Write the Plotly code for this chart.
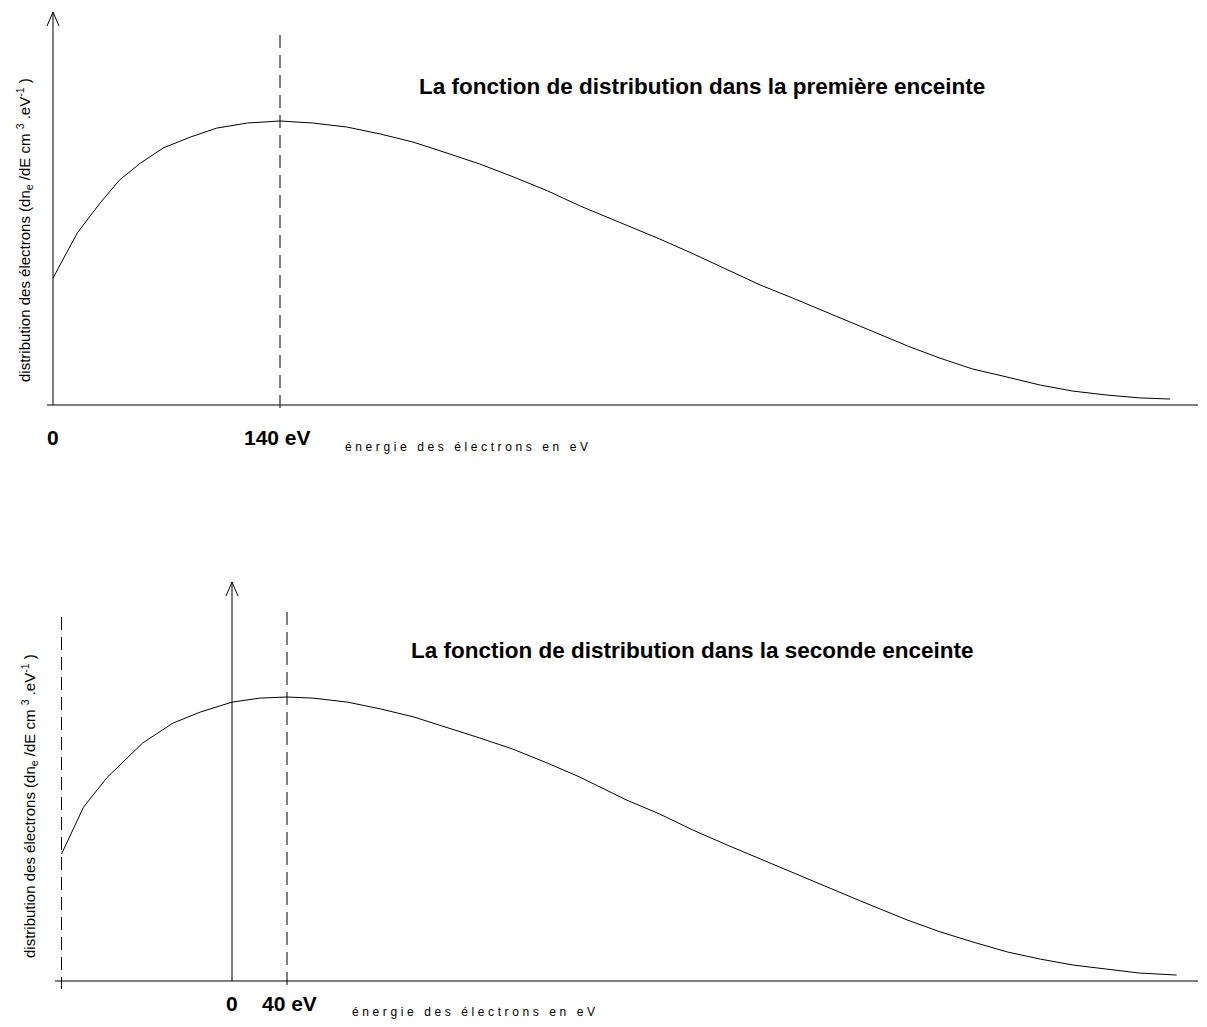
import plotly.graph_objects as go

# --- data (values normalised to the peak) ---
energie_1 = [0, 15, 29, 41, 54, 68, 85, 101, 120, 140, 160, 181, 202, 222, 243,
             263, 284, 305, 325, 354, 374, 395, 416, 436, 456, 477, 498, 527,
             547, 567, 588, 609, 629, 650, 670, 689]
distrib_1 = [0.447, 0.606, 0.711, 0.792, 0.852, 0.905, 0.944, 0.975, 0.993, 1.0,
             0.993, 0.979, 0.954, 0.926, 0.887, 0.849, 0.803, 0.754, 0.701, 0.634,
             0.585, 0.532, 0.475, 0.423, 0.377, 0.327, 0.275, 0.208, 0.165, 0.127,
             0.099, 0.070, 0.049, 0.035, 0.025, 0.021]

energie_2 = [-124, -108, -91, -65, -43, -23, 0, 20, 40, 59, 84, 108, 132, 156, 180,
             204, 229, 253, 287, 311, 335, 360, 384, 408, 433, 457, 491, 515, 539,
             564, 588, 612, 636, 660, 687]
distrib_2 = [0.447, 0.612, 0.716, 0.838, 0.908, 0.947, 0.982, 0.996, 1.0, 0.996,
             0.982, 0.958, 0.930, 0.894, 0.856, 0.817, 0.768, 0.718, 0.637, 0.588,
             0.532, 0.479, 0.430, 0.380, 0.331, 0.282, 0.215, 0.173, 0.137, 0.102,
             0.077, 0.056, 0.042, 0.028, 0.021]

pic_1 = 140          # eV, dashed marker, first chamber
pic_2 = 40           # eV, dashed marker, second chamber
bord_2 = -124        # eV, left dashed line, second chamber

titre_1 = "La fonction de distribution dans la première enceinte"
titre_2 = "La fonction de distribution dans la seconde enceinte"
label_y = "distribution des électrons (dn<sub>e</sub> /dE cm <sup>3</sup> .eV<sup>-1</sup> )"
label_x = "énergie des électrons en eV"

# --- geometry (screen pixels of the page) ---
W, H, OFF = 1191, 1011, 8


def lin(p0, v0, p1, v1):
    k = (v1 - v0) / (p1 - p0)
    return lambda p: v0 + (p - p0) * k


def paper_x(px):
    return (px - OFF) / W


def paper_y(py):
    return 1 - (py - OFF) / H


# panel 1: E=0 at px 53, E=140 at px 280 ; value 0 at py 405, 1 at py 121
ex1 = lin(53, 0, 280, pic_1)
vy1 = lin(405, 0, 121, 1)
# panel 2: E=0 at px 232, E=40 at px 287 ; value 0 at py 981, 1 at py 697
ex2 = lin(232, 0, 287, pic_2)
vy2 = lin(981, 0, 697, 1)

top_dom = (8, 440)
bot_dom = (560, 1019)

fig = go.Figure()
fig.add_trace(go.Scatter(x=energie_1, y=distrib_1, mode="lines",
                         line=dict(color="black", width=1), xaxis="x", yaxis="y",
                         hoverinfo="skip", showlegend=False))
fig.add_trace(go.Scatter(x=energie_2, y=distrib_2, mode="lines",
                         line=dict(color="black", width=1), xaxis="x2", yaxis="y2",
                         hoverinfo="skip", showlegend=False))

hidden = dict(visible=False, showgrid=False, zeroline=False, fixedrange=True)
fig.update_layout(
    xaxis=dict(range=[ex1(OFF), ex1(OFF + W)], domain=[0, 1], anchor="y", **hidden),
    yaxis=dict(range=[vy1(top_dom[1]), vy1(top_dom[0])],
               domain=[paper_y(top_dom[1]), paper_y(top_dom[0])], anchor="x", **hidden),
    xaxis2=dict(range=[ex2(OFF), ex2(OFF + W)], domain=[0, 1], anchor="y2", **hidden),
    yaxis2=dict(range=[vy2(bot_dom[1]), vy2(bot_dom[0])],
                domain=[paper_y(bot_dom[1]), paper_y(bot_dom[0])], anchor="x2", **hidden),
)

shapes = []


def seg(xr, yr, x0, y0, x1, y1, dash="solid"):
    shapes.append(dict(type="line", xref=xr, yref=yr, x0=x0, y0=y0, x1=x1, y1=y1,
                       line=dict(color="black", width=1, dash=dash)))


DASH = "13px,7px"

# panel 1 axes
seg("x", "y", ex1(47), 0, ex1(1198), 0)
seg("x", "y", 0, 0, 0, vy1(12))
seg("x", "y", 0, vy1(12), ex1(47), vy1(26))
seg("x", "y", 0, vy1(12), ex1(59), vy1(26))
seg("x", "y", pic_1, vy1(35), pic_1, vy1(413), DASH)

# panel 2 axes
seg("x2", "y2", ex2(55), 0, ex2(1198), 0)
seg("x2", "y2", 0, 0, 0, vy2(582))
seg("x2", "y2", 0, vy2(582), ex2(226), vy2(596))
seg("x2", "y2", 0, vy2(582), ex2(238), vy2(596))
seg("x2", "y2", pic_2, vy2(612), pic_2, vy2(989), DASH)
seg("x2", "y2", bord_2, vy2(617), bord_2, vy2(989), DASH)

fig.update_layout(shapes=shapes)

ann = []


def txt(text, px, py, size, bold=False, angle=0, family="Liberation Sans, Arial, sans-serif",
        xanchor="center"):
    ann.append(dict(text=f"<b>{text}</b>" if bold else text, xref="paper", yref="paper",
                    x=paper_x(px), y=paper_y(py), xanchor=xanchor, yanchor="middle",
                    showarrow=False, textangle=angle,
                    font=dict(family=family, size=size, color="black")))


spaced = f'<span style="letter-spacing:3.6px">{label_x}</span>'

txt(titre_1, 702, 86, 22.5, bold=True)
txt(titre_2, 693, 650, 22.5, bold=True)
txt(label_y, 24, 230, 15, angle=-90)
txt(label_y, 29, 806, 15, angle=-90)
txt("0", 53, 437, 21, bold=True)
txt(f"{pic_1} eV", 277, 437, 21, bold=True)
txt(spaced, 343, 447, 12, xanchor="left")
txt("0", 232, 1003, 21, bold=True)
txt(f"{pic_2} eV", 289, 1003, 21, bold=True)
txt(spaced, 350, 1012, 12, xanchor="left")
fig.update_layout(annotations=ann)

fig.update_layout(
    width=W, height=H,
    margin=dict(l=0, r=0, t=0, b=0),
    paper_bgcolor="white", plot_bgcolor="white",
    showlegend=False,
)

fig.write_html("out.html", config={"displayModeBar": False})
